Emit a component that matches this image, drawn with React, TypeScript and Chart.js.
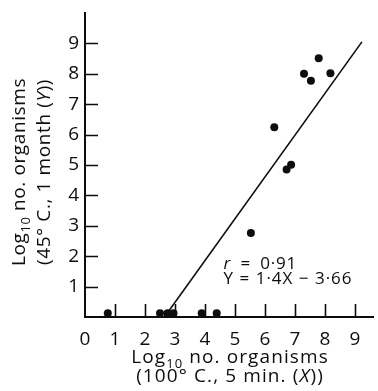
import React, { useEffect, useRef } from 'react';
import { Chart, registerables } from 'chart.js';

Chart.register(...registerables);

// Observed points (log10 organisms)
const pointsX = [0.76, 2.5, 2.75, 2.95, 3.89, 4.39, 5.53, 6.31, 6.72, 6.87, 7.3, 7.53, 7.79, 8.18];
const pointsY = [0.12, 0.12, 0.12, 0.12, 0.12, 0.12, 2.76, 6.24, 4.85, 5.01, 8.0, 7.77, 8.51, 8.02];
// Regression line endpoints
const fitX = [2.65, 9.23];
const fitY = [0, 9.05];
// Tick marks
const xTickValues = [1, 2, 3, 4, 5, 6, 7, 8, 9];
const yTickValues = [1, 2, 3, 4, 5, 6, 7, 8, 9];
const X_MIN = 0;
const X_MAX = 9.6;
const Y_MIN = 0;
const Y_MAX = 10;

const xTitleLine1 = [{ t: 'Log' }, { t: '10', sub: true }, { t: ' no. organisms' }];
const xTitleLine2 = [{ t: '(100° C., 5 min. (' }, { t: 'X', it: true }, { t: '))' }];
const yTitleLine1 = [{ t: 'Log' }, { t: '10', sub: true }, { t: ' no. organisms' }];
const yTitleLine2 = [{ t: '(45° C., 1 month (' }, { t: 'Y', it: true }, { t: '))' }];
const annot1 = [{ t: 'r', it: true }, { t: '\u2002=\u20020·91' }];
const annot2 = [{ t: 'Y = 1·4X − 3·66' }];

const FONT = '"Open Sans", "DejaVu Sans", sans-serif';
const INK = '#0d0d0d';

type Seg = { t: string; sub?: boolean; it?: boolean };

function segFont(s: Seg, size: number) {
  const sz = s.sub ? Math.round(size * 0.68) : size;
  return `${s.it ? 'italic ' : ''}${sz}px ${FONT}`;
}

function drawRich(ctx: CanvasRenderingContext2D, segs: Seg[], x: number, y: number, size: number, align: 'left' | 'center', spacing: number) {
  (ctx as any).letterSpacing = `${spacing}px`;
  let total = 0;
  for (const s of segs) {
    ctx.font = segFont(s, size);
    total += ctx.measureText(s.t).width;
  }
  let cx = align === 'center' ? x - total / 2 : x;
  ctx.textAlign = 'left';
  ctx.textBaseline = 'alphabetic';
  for (const s of segs) {
    ctx.font = segFont(s, size);
    ctx.fillText(s.t, cx, y + (s.sub ? size * 0.28 : 0));
    cx += ctx.measureText(s.t).width;
  }
  (ctx as any).letterSpacing = '0px';
}

const decorPlugin = {
  id: 'decor',
  afterDraw(chart: any) {
    const ctx: CanvasRenderingContext2D = chart.ctx;
    const xs = chart.scales.x;
    const ys = chart.scales.y;
    const area = chart.chartArea;
    ctx.save();
    ctx.strokeStyle = INK;
    ctx.fillStyle = INK;
    ctx.lineWidth = 1.6;
    const tl = 13;
    ctx.beginPath();
    for (const v of yTickValues) {
      const py = Math.round(ys.getPixelForValue(v)) + 0.5;
      ctx.moveTo(area.left, py);
      ctx.lineTo(area.left + tl, py);
    }
    for (const v of xTickValues) {
      const px = Math.round(xs.getPixelForValue(v)) + 0.5;
      ctx.moveTo(px, area.bottom);
      ctx.lineTo(px, area.bottom - tl);
    }
    ctx.stroke();

    // x title
    const cxm = 230;
    drawRich(ctx, xTitleLine1, cxm, 363, 19, 'center', 1.1);
    drawRich(ctx, xTitleLine2, cxm, 382, 19, 'center', 1.1);

    // y title
    ctx.save();
    ctx.translate(25, 172);
    ctx.rotate(-Math.PI / 2);
    drawRich(ctx, yTitleLine1, 0, 0, 19, 'center', 0.6);
    ctx.restore();
    ctx.save();
    ctx.translate(50, 172);
    ctx.rotate(-Math.PI / 2);
    drawRich(ctx, yTitleLine2, 0, 0, 19, 'center', 0.6);
    ctx.restore();

    // annotation
    const ax = xs.getPixelForValue(4.62);
    drawRich(ctx, annot1, ax, ys.getPixelForValue(1.59), 17, 'left', 0.8);
    drawRich(ctx, annot2, ax, ys.getPixelForValue(1.1), 17, 'left', 1);
    ctx.restore();
  },
};

export default function App() {
  const ref = useRef<HTMLCanvasElement>(null);
  useEffect(() => {
    if (!ref.current) return;
    const chart = new Chart(ref.current, {
      type: 'scatter',
      data: {
        datasets: [
          {
            type: 'line',
            data: fitX.map((x, i) => ({ x, y: fitY[i] })),
            borderColor: INK,
            borderWidth: 1.6,
            pointRadius: 0,
            fill: false,
          } as any,
          {
            data: pointsX.map((x, i) => ({ x, y: pointsY[i] })),
            backgroundColor: INK,
            borderColor: INK,
            pointRadius: 4,
            borderWidth: 0,
          },
        ],
      },
      options: {
        animation: false,
        responsive: false,
        events: [],
        layout: { padding: { left: 0, top: 13, right: 5, bottom: 0 } },
        plugins: { legend: { display: false }, tooltip: { enabled: false } },
        scales: {
          x: {
            type: 'linear',
            min: X_MIN,
            max: X_MAX,
            grid: { display: false, drawTicks: false },
            border: { display: true, color: INK, width: 2 },
            afterFit: (s: any) => { s.height = 74; s.paddingLeft = 0; s.paddingRight = 0; },
            ticks: {
              stepSize: 1,
              includeBounds: false,
              autoSkip: false,
              maxRotation: 0,
              padding: 11,
              color: INK,
              font: { family: FONT, size: 19 },
              callback: (v: any) => (Number.isInteger(v) && v <= 9 ? String(v) : ''),
            },
          },
          y: {
            type: 'linear',
            min: Y_MIN,
            max: Y_MAX,
            grid: { display: false, drawTicks: false },
            border: { display: true, color: INK, width: 2 },
            afterFit: (s: any) => { s.width = 85; s.paddingTop = 0; s.paddingBottom = 0; },
            ticks: {
              stepSize: 1,
              autoSkip: false,
              padding: 6,
              color: INK,
              font: { family: FONT, size: 19 },
              callback: (v: any) => (v >= 1 && v <= 9 ? String(v) : ''),
            },
          },
        },
      },
      plugins: [decorPlugin],
    });
    return () => chart.destroy();
  }, []);
  return (
    <div style={{ position: 'absolute', left: 0, top: 0, width: 378, height: 391, background: '#fff' }}>
      <canvas ref={ref} width={378} height={391} />
    </div>
  );
}
